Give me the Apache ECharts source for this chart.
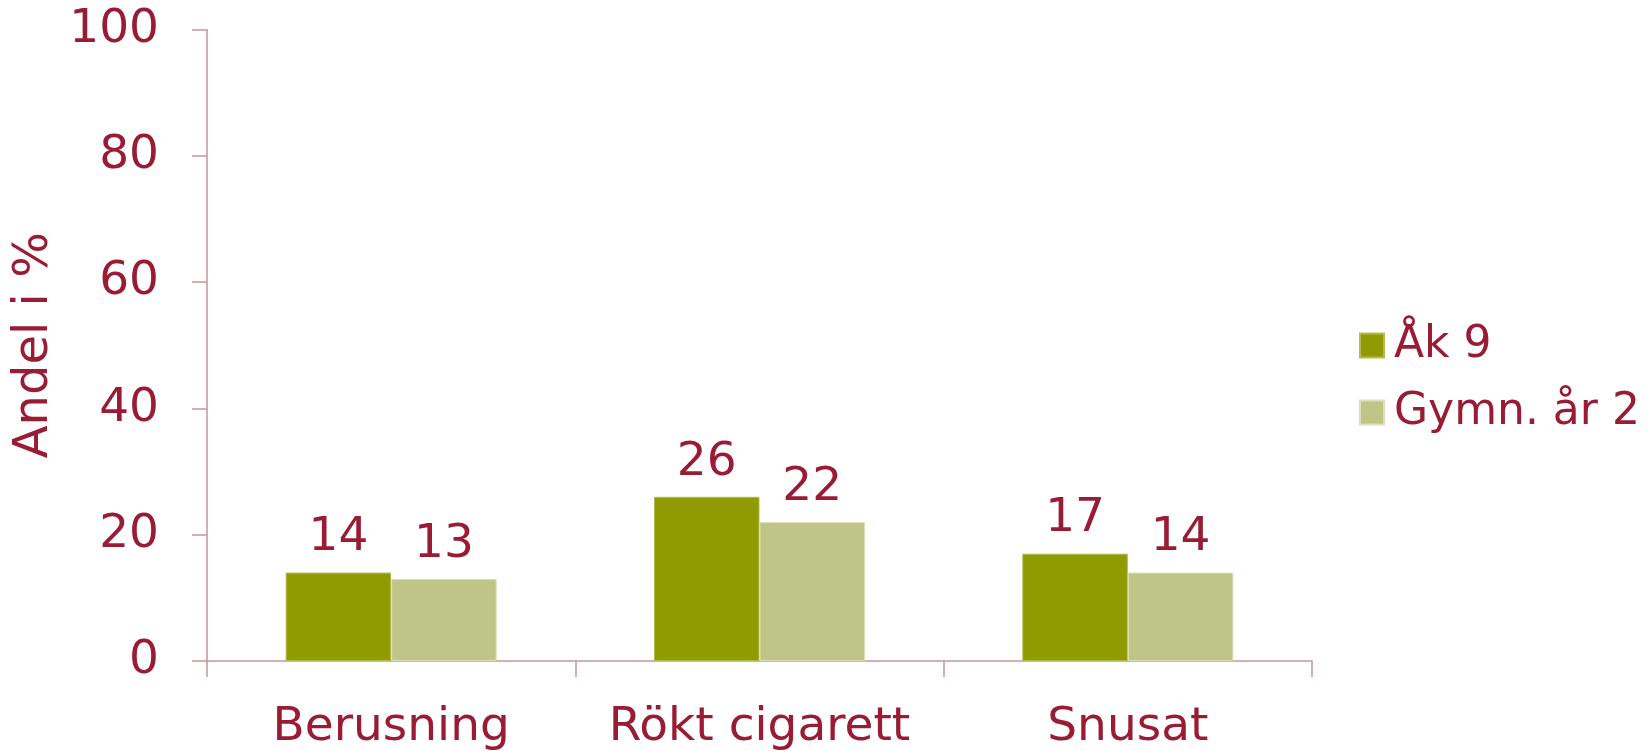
<!DOCTYPE html>
<html>
<head>
<meta charset="utf-8">
<script src="https://cdn.jsdelivr.net/npm/echarts@6/dist/echarts.min.js"></script>
<style>html,body{margin:0;padding:0;background:#fff;}#c{width:1650px;height:751px;}</style>
</head>
<body>
<div id="c"></div>
<script>
var categories = ['Berusning', 'Rökt cigarett', 'Snusat'];
var seriesNames = ['Åk 9', 'Gymn. år 2'];
var ak9 = [14, 26, 17];
var gymn2 = [13, 22, 14];
var yTicks = [0, 20, 40, 60, 80, 100];

var textColor = '#9A1C34';
var axisColor = '#C4969D';
var font = '"DejaVu Sans", Verdana, sans-serif';

var chart = echarts.init(document.getElementById('c'), null, {renderer: 'canvas'});
chart.setOption({
  backgroundColor: '#ffffff',
  animation: false,
  textStyle: {fontFamily: font},
  grid: {left: 207, right: 338, top: 29.5, bottom: 90, containLabel: false},
  legend: {
    orient: 'vertical',
    left: 1359,
    top: 323.5,
    padding: 0,
    itemWidth: 24,
    itemHeight: 24,
    itemGap: 23,
    icon: 'rect',
    textStyle: {color: textColor, fontSize: 44, fontFamily: font, padding: [0, 0, 0, 5]},
    data: seriesNames
  },
  xAxis: {
    type: 'category',
    data: categories,
    axisLine: {show: true, lineStyle: {color: axisColor, width: 1.5}},
    axisTick: {show: true, length: 16, lineStyle: {color: axisColor, width: 1.5}},
    axisLabel: {color: textColor, fontSize: 47, fontFamily: font, margin: 43, interval: 0}
  },
  yAxis: {
    type: 'value',
    min: yTicks[0],
    max: yTicks[yTicks.length - 1],
    interval: 20,
    name: 'Andel i %',
    nameLocation: 'middle',
    nameGap: 141,
    nameTextStyle: {color: textColor, fontSize: 48, fontFamily: font},
    axisLine: {show: true, lineStyle: {color: axisColor, width: 1.5}},
    axisTick: {show: true, length: 15, lineStyle: {color: axisColor, width: 1.5}},
    splitLine: {show: false},
    axisLabel: {color: textColor, fontSize: 47, fontFamily: font, margin: 48}
  },
  series: [
    {
      name: seriesNames[0],
      type: 'bar',
      data: ak9,
      barGap: '0%',
      barCategoryGap: '42.7%',
      itemStyle: {color: '#8F9B00', borderColor: '#B3BB4F', borderWidth: 1},
      label: {show: true, position: 'top', distance: 11, color: textColor, fontSize: 47, fontFamily: font}
    },
    {
      name: seriesNames[1],
      type: 'bar',
      data: gymn2,
      barGap: '0%',
      barCategoryGap: '42.7%',
      itemStyle: {color: '#BFC587', borderColor: '#DCE0B8', borderWidth: 1},
      label: {show: true, position: 'top', distance: 11, color: textColor, fontSize: 47, fontFamily: font}
    }
  ]
});
</script>
</body>
</html>
